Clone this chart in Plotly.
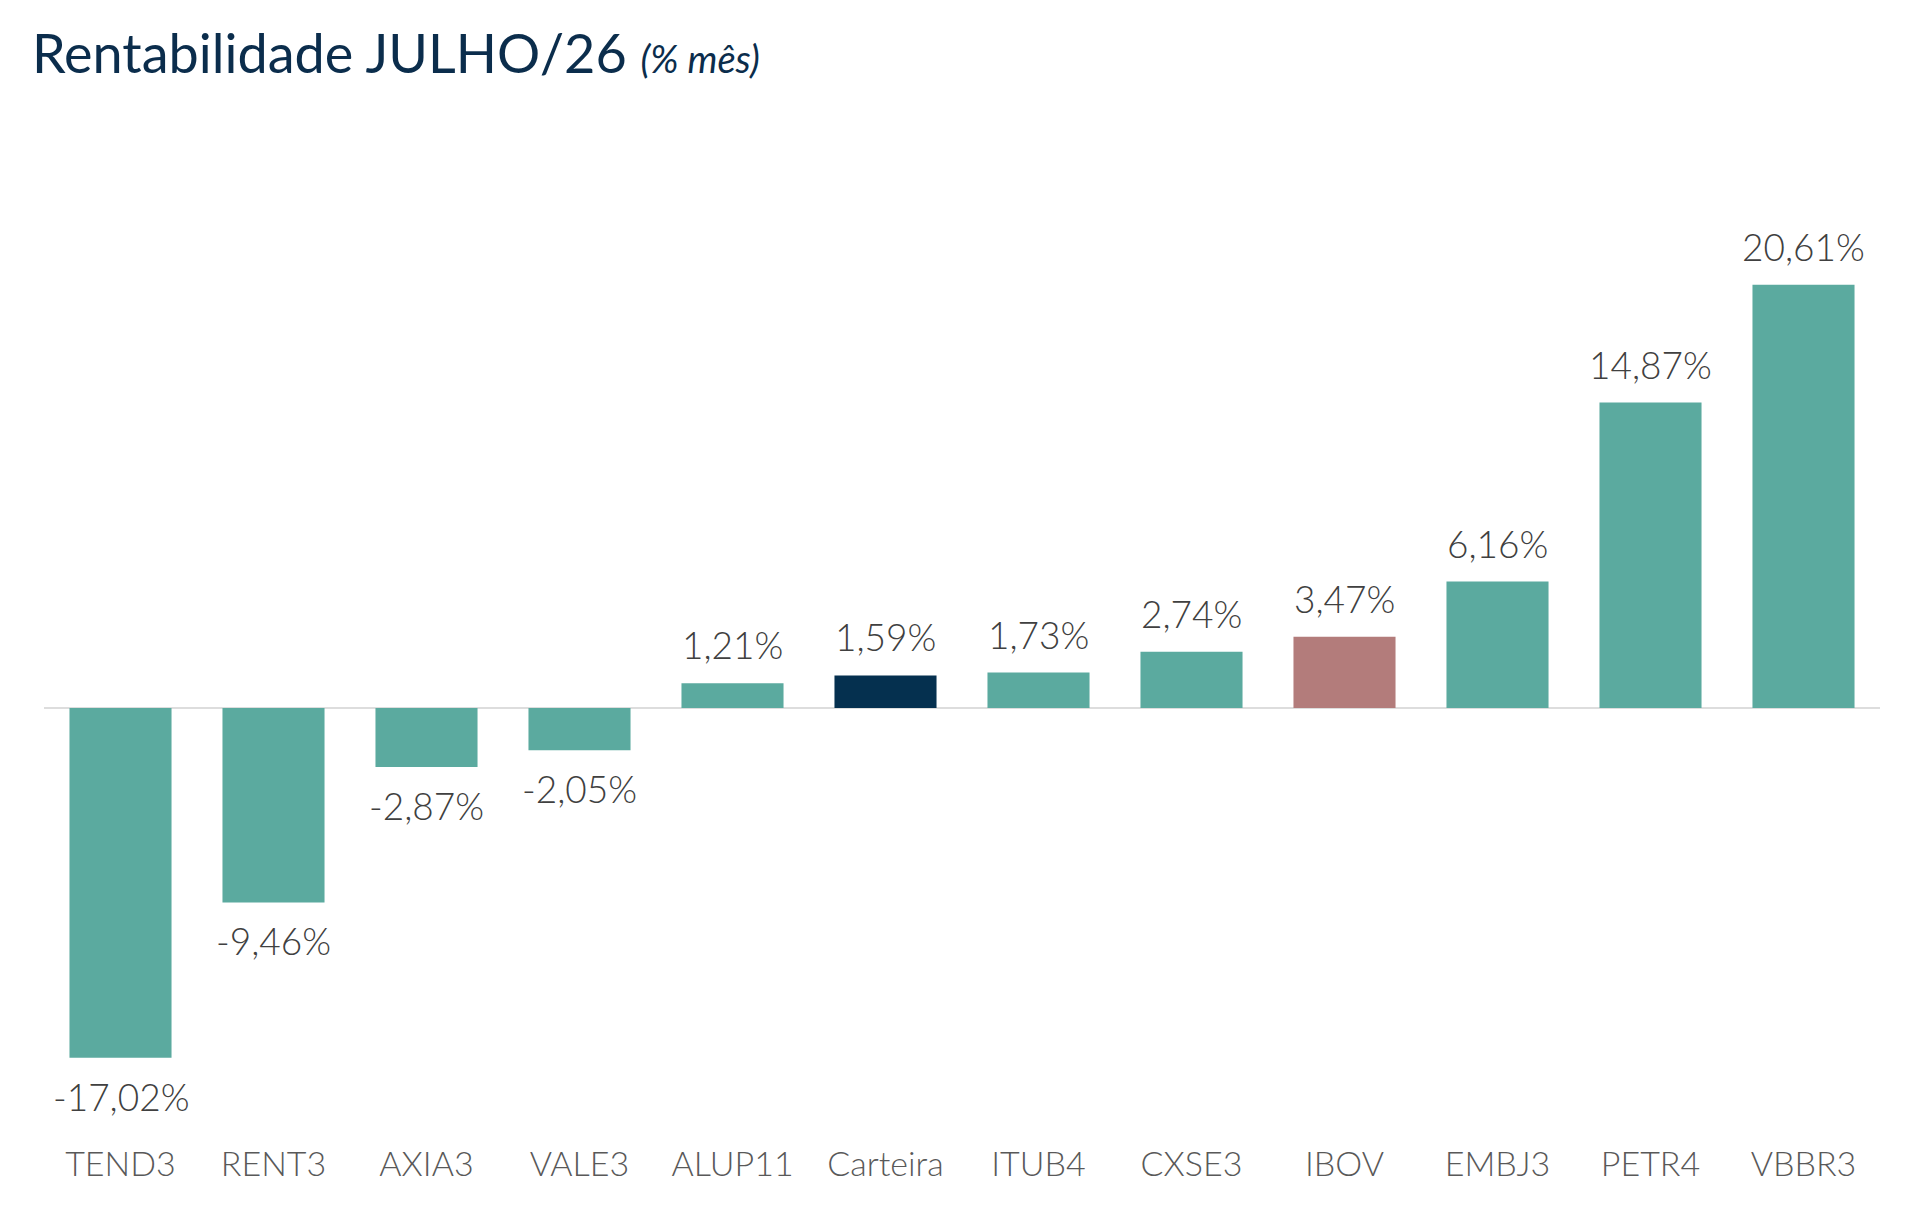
import plotly.graph_objects as go

tickers = ["TEND3", "RENT3", "AXIA3", "VALE3", "ALUP11", "Carteira",
           "ITUB4", "CXSE3", "IBOV", "EMBJ3", "PETR4", "VBBR3"]
returns = [-17.02, -9.46, -2.87, -2.05, 1.21, 1.59,
           1.73, 2.74, 3.47, 6.16, 14.87, 20.61]

TEAL = "#5BAA9F"
NAVY = "#05304F"
MAUVE = "#B37C7B"
special = {"Carteira": NAVY, "IBOV": MAUVE}
colors = [special.get(t, TEAL) for t in tickers]
labels = [f"{v:.2f}%".replace(".", ",") for v in returns]

fig = go.Figure()
fig.add_trace(go.Bar(
    x=tickers,
    y=returns,
    marker=dict(color=colors, line=dict(width=0)),
    hoverinfo="x+y",
))

# value labels above / below each bar
for t, v, s in zip(tickers, returns, labels):
    fig.add_annotation(
        x=t, y=v, text=s, showarrow=False,
        yanchor="bottom" if v >= 0 else "top",
        yshift=14 if v >= 0 else -14,
        font=dict(family="Lato", size=37, color="#404040", weight=300),
    )

fig.update_layout(
    width=1920,
    height=1208,
    paper_bgcolor="white",
    plot_bgcolor="white",
    bargap=0.333,
    showlegend=False,
    margin=dict(l=44, r=40, t=215, b=89),
    font=dict(family="Lato", color="#595959"),
    title=dict(
        text="Rentabilidade JULHO/26 <i><span style='font-size:38px'>(% mês)</span></i>",
        x=32 / 1920, xanchor="left", y=1 - 54 / 1208, yanchor="middle",
        font=dict(family="Lato", size=54, color="#0B2D4C"),
    ),
    xaxis=dict(
        showgrid=False, showline=False, zeroline=False,
        tickfont=dict(family="Lato", size=34, color="#595959", weight=300),
        ticks="", ticklabelstandoff=22,
    ),
    yaxis=dict(
        range=[-20, 24],
        showgrid=False, showticklabels=False, showline=False,
        zeroline=True, zerolinecolor="#DDDDDD", zerolinewidth=2,
    ),
)

fig.write_html("out.html", config={"displayModeBar": False},
               post_script="document.body.style.margin='0';")
